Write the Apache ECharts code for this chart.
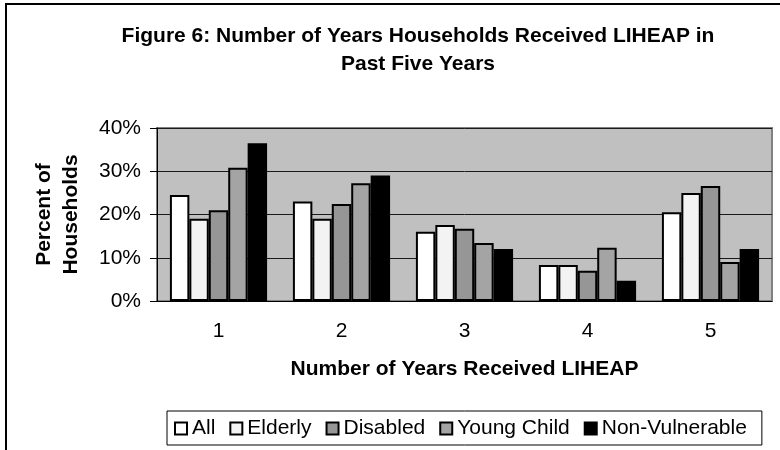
<!DOCTYPE html>
<html>
<head>
<meta charset="utf-8">
<script src="https://cdn.jsdelivr.net/npm/echarts@6/dist/echarts.min.js"></script>
<style>
  html, body { margin: 0; padding: 0; background: #fff; }
  #chart { width: 780px; height: 450px; }
</style>
</head>
<body>
<div id="chart"></div>
<script>
const years = ['1', '2', '3', '4', '5'];
const allHh = [24.5, 23, 16, 8.3, 20.5];
const elderly = [19, 19, 17.6, 8.3, 25];
const disabled = [21, 22.4, 16.7, 7, 26.6];
const youngChild = [30.8, 27.2, 13.4, 12.3, 9];
const nonVulnerable = [36.5, 29, 12, 4.7, 12];

const font = 'Arial, "Liberation Sans", sans-serif';

function bar(name, data, color) {
    return {
        name: name,
        type: 'bar',
        data: data,
        barGap: '0%',
        barCategoryGap: '21%',
        itemStyle: { color: color, borderColor: '#000', borderWidth: 2 },
        emphasis: { disabled: true }
    };
}

const chart = echarts.init(document.getElementById('chart'));
chart.setOption({
    animation: false,
    backgroundColor: '#fff',
    title: {
        text: 'Figure 6: Number of Years Households Received LIHEAP in\nPast Five Years',
        left: 413,
        top: 17,
        textAlign: 'center',
        textStyle: { fontFamily: font, fontSize: 21, fontWeight: 'bold', color: '#000', lineHeight: 28 }
    },
    graphic: [{
        type: 'rect',
        shape: { x: 6, y: 4, width: 900, height: 600 },
        style: { fill: 'none', stroke: '#000', lineWidth: 2 },
        silent: true,
        z: -1
    }],
    legend: {
        left: 167,
        top: 411,
        padding: [7, 15, 6, 7],
        borderColor: '#000',
        borderWidth: 1,
        itemWidth: 12,
        itemHeight: 12,
        itemGap: 14,
        icon: 'rect',
        textStyle: { fontFamily: font, fontSize: 21, color: '#000' },
        data: ['All', 'Elderly', 'Disabled', 'Young Child', 'Non-Vulnerable']
    },
    grid: {
        left: 157,
        right: 8,
        top: 128,
        bottom: 149,
        show: true,
        backgroundColor: '#c0c0c0',
        borderColor: '#808080',
        borderWidth: 2
    },
    xAxis: {
        type: 'category',
        data: years,
        name: 'Number of Years Received LIHEAP',
        nameLocation: 'middle',
        nameGap: 58,
        nameTextStyle: { fontFamily: font, fontSize: 21, fontWeight: 'bold', color: '#000' },
        axisLine: { lineStyle: { color: '#000', width: 1 } },
        axisTick: { show: false },
        axisLabel: { fontFamily: font, fontSize: 21, color: '#000', margin: 20 }
    },
    yAxis: {
        type: 'value',
        min: 0,
        max: 40,
        interval: 10,
        name: 'Percent of\nHouseholds',
        nameLocation: 'middle',
        nameGap: 72,
        nameTextStyle: { fontFamily: font, fontSize: 21, fontWeight: 'bold', color: '#000', lineHeight: 27 },
        axisLine: { show: true, lineStyle: { color: '#000', width: 1 } },
        axisTick: { show: true, length: 7, lineStyle: { color: '#000' } },
        axisLabel: { fontFamily: font, fontSize: 21, color: '#000', margin: 16, formatter: '{value}%' },
        splitLine: { lineStyle: { color: '#1a1a1a', width: 1 } }
    },
    series: [
        bar('All', allHh, '#ffffff'),
        bar('Elderly', elderly, '#f3f3f3'),
        bar('Disabled', disabled, '#969696'),
        bar('Young Child', youngChild, '#a4a4a4'),
        bar('Non-Vulnerable', nonVulnerable, '#000000')
    ]
});
</script>
</body>
</html>
